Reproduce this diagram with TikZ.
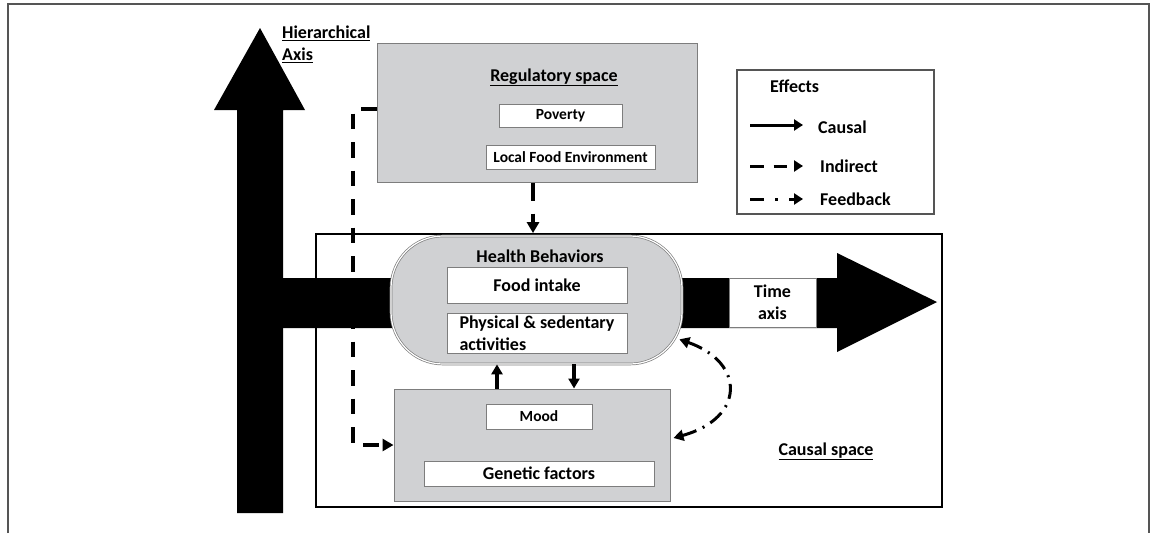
\documentclass[tikz,border=0pt]{standalone}
\usepackage{fontspec}
\setmainfont{Carlito}
\usetikzlibrary{arrows.meta,calc}
\definecolor{boxgray}{RGB}{208,209,211}
\definecolor{edgegray}{RGB}{125,125,125}
\definecolor{framegray}{RGB}{85,85,85}
\begin{document}
\begin{tikzpicture}[x=1pt,y=-1pt,
  lbl/.style={font=\fontsize{18}{22}\selectfont\bfseries, inner sep=0pt},
  small/.style={font=\fontsize{15.5}{19}\selectfont\bfseries},
  graybox/.style={draw=edgegray, fill=boxgray, line width=1pt, inner sep=0pt},
  whitebox/.style={draw=edgegray, fill=white, line width=1pt, inner sep=0pt},
  causal/.style={line width=4pt, -{Triangle[length=10pt,width=11pt]}},
  indirect/.style={line width=4pt, dash pattern=on 15.5pt off 13pt, -{Triangle[length=11pt,width=12pt]}},
  feedback/.style={line width=3pt, dash pattern=on 15pt off 7pt on 2pt off 7pt,
     {Triangle[length=10pt,width=11pt]}-{Triangle[length=10pt,width=11pt]}},
  legline/.style={line width=3pt},
]
\useasboundingbox (0,0) rectangle (1150,533);
% outer frame
\draw[framegray, line width=1.5pt] (8,533) -- (8,4) -- (1149,4) -- (1149,533);
% hierarchical axis (vertical arrow)
\fill[black] (237,513) -- (237,110) -- (214,110) -- (260,28) -- (305,110) -- (283,110) -- (283,513) -- cycle;
% time axis (horizontal arrow)
\fill[black] (283,278) -- (837,278) -- (837,253) -- (937,302) -- (837,352) -- (837,328) -- (283,328) -- cycle;
\node[lbl, anchor=north west, align=left] (hier) at (282,26) {\underline{Hierarchical}\\[0pt]\underline{Axis}};

% regulatory space
\node[graybox, minimum width=320pt, minimum height=139pt] (reg) at (537,112.5) {};
\node[lbl, anchor=base] (regt) at (554,81) {\underline{Regulatory space}};
\node[whitebox, small, minimum width=123pt, minimum height=23pt] (pov) at (560.5,115.5) {Poverty};
\node[whitebox, small, minimum width=169pt, minimum height=24pt] (lfe) at (570.5,157) {Local Food Environment};

% legend
\node[draw=framegray, line width=1.2pt, minimum width=197pt, minimum height=144pt] (leg) at (835.5,142) {};
\node[lbl, anchor=base west] (eff) at (770,92) {Effects};
\coordinate (c1) at (750,125); \coordinate (c2) at (803,125);
\coordinate (i1) at (750,166); \coordinate (i2) at (803,166);
\coordinate (f1) at (750,199); \coordinate (f2) at (803,199);
\draw[legline, -{Triangle[length=9pt,width=11pt]}] (c1) -- (c2);
\draw[legline, dash pattern=on 13.5pt off 10pt, -{Triangle[length=9pt,width=11pt]}] (i1) -- (i2);
\draw[legline, dash pattern=on 14pt off 11pt on 3pt off 11pt, -{Triangle[length=9pt,width=11pt]}] (f1) -- (f2);
\node[lbl, anchor=base west] (lc) at (818,133) {Causal};
\node[lbl, anchor=base west] (li) at (820,172) {Indirect};
\node[lbl, anchor=base west] (lf) at (820,205) {Feedback};

% causal space
\node[draw=black, line width=1.8pt, minimum width=626pt, minimum height=273pt] (cs) at (629,370.5) {};
\node[lbl, anchor=base] (cst) at (826,455) {\underline{Causal space}};

% health behaviours
\node[fill=boxgray, draw=edgegray, line width=0.7pt, double=white, double distance=1.2pt,
      rounded corners=52pt, minimum width=291pt, minimum height=128pt] (hb) at (536.5,300) {};
\node[lbl, anchor=base] (hbt) at (540,262) {Health Behaviors};
\node[whitebox, lbl, minimum width=180pt, minimum height=36pt] (food) at (537,285) {Food intake};
\node[whitebox, lbl, align=left, minimum width=180pt, minimum height=40pt] (phys) at (537,333) {Physical \& sedentary\\activities};

% time axis label
\node[whitebox, lbl, align=center, minimum width=87pt, minimum height=49pt] (time) at (772.5,302.5) {Time\\axis};

% lower box
\node[graybox, minimum width=276pt, minimum height=112pt] (low) at (532,445) {};
\node[whitebox, small, minimum width=106pt, minimum height=25pt] (mood) at (539,416.5) {Mood};
\node[whitebox, lbl, minimum width=230pt, minimum height=25pt] (gen) at (539,473.5) {Genetic factors};

% connectors
\draw[causal] ([xshift=-35pt]low.north) -- ([xshift=-35pt]low.north |- hb.south);
\draw[causal] ([xshift=42pt]low.north |- hb.south) -- ([xshift=42pt]low.north);
\draw[indirect, dash pattern=on 18pt off 13pt] ([xshift=-4pt]reg.south) -- ([xshift=-4pt]reg.south |- cs.north);
\draw[indirect] ([yshift=3.5pt]reg.west) -- ++(-24,0) |- (low.west);
\coordinate (fbA) at ([xshift=-3pt,yshift=25pt]hb.south east);
\coordinate (fbB) at ([xshift=3pt,yshift=7pt]low.east);
\draw[feedback] (fbA) .. controls +(66,23) and +(72,-20) .. (fbB);
\end{tikzpicture}
\end{document}
